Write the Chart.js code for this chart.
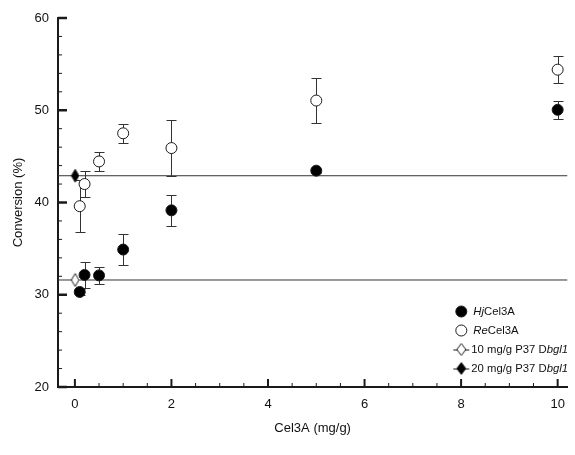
<!DOCTYPE html>
<html>
<head>
<meta charset="utf-8">
<script src="https://cdn.jsdelivr.net/npm/chart.js@4.4.0/dist/chart.umd.min.js"></script>
<style>
  html, body { margin: 0; padding: 0; background: #fff; }
</style>
</head>
<body>
<canvas id="conversionChart" width="575" height="455"></canvas>
<script>
// Cel3A loading (mg/g) vs conversion (%)
const hjDose = [0.1, 0.2, 0.5, 1, 2, 5, 10];
const hjConversion = [30.3, 32.15, 32.1, 34.9, 39.15, 43.45, 50.05];
const hjError = [0.3, 1.45, 0.9, 1.7, 1.65, 0.2, 0.95];

const reDose = [0.1, 0.2, 0.5, 1, 2, 5, 10];
const reConversion = [39.6, 42.0, 44.45, 47.5, 45.9, 51.05, 54.4];
const reError = [2.8, 1.4, 1.05, 1.0, 3.0, 2.4, 1.5];

// P37 Dbgl1 controls (no Cel3A added), drawn as reference levels
const p37Dose = 0;
const p37Low = 31.6;   // 10 mg/g
const p37High = 42.9;  // 20 mg/g

const xTickLabels = [0, 2, 4, 6, 8, 10];
const yTickLabels = [20, 30, 40, 50, 60];
const legendLabels = [
    [['Hj', true], ['Cel3A', false]],
    [['Re', true], ['Cel3A', false]],
    [['10 mg/g P37 D', false], ['bgl1', true]],
    [['20 mg/g P37 D', false], ['bgl1', true]]
];

const xMin = -0.35, xMax = 10.2;
const yMin = 20, yMax = 60;
const FONT = '"Liberation Sans", Arial, sans-serif';
const INK = '#1a1a1a';

function makeDiamond(fill, w, h) {
    const c = document.createElement('canvas');
    c.width = w + 2; c.height = h + 2;
    const g = c.getContext('2d');
    g.beginPath();
    g.moveTo(1 + w / 2, 1);
    g.lineTo(1 + w, 1 + h / 2);
    g.lineTo(1 + w / 2, 1 + h);
    g.lineTo(1, 1 + h / 2);
    g.closePath();
    g.fillStyle = fill;
    g.fill();
    g.strokeStyle = INK;
    g.lineWidth = 1;
    g.stroke();
    return c;
}
const openDiamond = makeDiamond('#fff', 7.5, 13);
const solidDiamond = makeDiamond('#000', 7.5, 13);
const openDiamondKey = makeDiamond('#fff', 9, 12);
const solidDiamondKey = makeDiamond('#000', 9, 12);

function levelData(level) {
    return [{ x: xMin, y: level }, { x: p37Dose, y: level }, { x: xMax, y: level }];
}

const decor = {
    id: 'decor',
    beforeDatasetsDraw(chart) {
        const { ctx, scales: { x, y } } = chart;
        ctx.save();
        ctx.strokeStyle = '#333';
        ctx.lineWidth = 1;
        [[hjDose, hjConversion, hjError], [reDose, reConversion, reError]].forEach(([xs, ys, es]) => {
            xs.forEach((d, i) => {
                const px = Math.round(x.getPixelForValue(d)) + 0.5;
                const top = Math.round(y.getPixelForValue(ys[i] + es[i])) + 0.5;
                const bot = Math.round(y.getPixelForValue(ys[i] - es[i])) + 0.5;
                ctx.beginPath();
                ctx.moveTo(px, top); ctx.lineTo(px, bot);
                ctx.moveTo(px - 5, top); ctx.lineTo(px + 5, top);
                ctx.moveTo(px - 5, bot); ctx.lineTo(px + 5, bot);
                ctx.stroke();
            });
        });
        ctx.restore();
    },
    afterDraw(chart) {
        const { ctx, chartArea, scales: { x, y } } = chart;
        ctx.save();
        ctx.strokeStyle = INK;
        // inward tick marks, minor every 0.5 on x and every 2 on y
        for (let v = 0; v <= 10; v += 0.5) {
            const major = xTickLabels.includes(v);
            const px = x.getPixelForValue(v);
            ctx.lineWidth = major ? 2 : 1;
            ctx.beginPath();
            ctx.moveTo(px, chartArea.bottom);
            ctx.lineTo(px, chartArea.bottom - (major ? 8 : 4));
            ctx.stroke();
        }
        for (let v = yMin; v <= yMax; v += 2) {
            const major = yTickLabels.includes(v);
            const py = y.getPixelForValue(v);
            ctx.lineWidth = major ? 2.5 : 1;
            ctx.beginPath();
            ctx.moveTo(chartArea.left, py);
            ctx.lineTo(chartArea.left + (major ? 9 : 4), py);
            ctx.stroke();
        }

        // legend
        const mx = chartArea.right - 106;
        legendLabels.forEach((parts, i) => {
            const my = chartArea.bottom - 75.5 + i * 19;
            ctx.lineWidth = 1;
            ctx.strokeStyle = INK;
            let tx = mx + 12;
            if (i < 2) {
                ctx.beginPath();
                ctx.arc(mx, my, 5.5, 0, Math.PI * 2);
                ctx.fillStyle = i === 0 ? '#000' : '#fff';
                ctx.fill();
                ctx.stroke();
            } else {
                ctx.beginPath();
                ctx.moveTo(mx - 8, my + 0.5); ctx.lineTo(mx + 8, my + 0.5);
                ctx.stroke();
                const img = i === 2 ? openDiamondKey : solidDiamondKey;
                ctx.drawImage(img, mx - img.width / 2, my - img.height / 2);
                tx = mx + 10;
            }
            ctx.fillStyle = '#111';
            ctx.textBaseline = 'middle';
            parts.forEach(([text, italic]) => {
                ctx.font = (italic ? 'italic ' : '') + '11.3px ' + FONT;
                ctx.fillText(text, tx, my);
                tx += ctx.measureText(text).width;
            });
        });
        ctx.restore();
    }
};

const ctx = document.getElementById('conversionChart').getContext('2d');
new Chart(ctx, {
    type: 'scatter',
    data: {
        datasets: [
            {
                label: 'HjCel3A',
                data: hjDose.map((d, i) => ({ x: d, y: hjConversion[i] })),
                pointStyle: 'circle',
                pointRadius: 5.5,
                backgroundColor: '#000',
                borderColor: INK,
                borderWidth: 1
            },
            {
                label: 'ReCel3A',
                data: reDose.map((d, i) => ({ x: d, y: reConversion[i] })),
                pointStyle: 'circle',
                pointRadius: 5.5,
                backgroundColor: '#fff',
                borderColor: INK,
                borderWidth: 1
            },
            {
                label: '10 mg/g P37 Dbgl1',
                data: levelData(p37Low),
                showLine: true,
                borderColor: '#333',
                borderWidth: 1,
                pointStyle: openDiamond,
                pointRadius: c => (c.raw && c.raw.x === p37Dose ? 6 : 0),
                clip: false
            },
            {
                label: '20 mg/g P37 Dbgl1',
                data: levelData(p37High),
                showLine: true,
                borderColor: '#333',
                borderWidth: 1,
                pointStyle: solidDiamond,
                pointRadius: c => (c.raw && c.raw.x === p37Dose ? 6 : 0),
                clip: false
            }
        ]
    },
    options: {
        responsive: false,
        animation: false,
        layout: { padding: { left: 0, right: 4, top: 18, bottom: 0 } },
        plugins: {
            legend: { display: false },
            tooltip: { enabled: false }
        },
        scales: {
            x: {
                type: 'linear',
                position: 'bottom',
                min: xMin,
                max: xMax,
                afterBuildTicks: s => { s.ticks = xTickLabels.map(v => ({ value: v })); },
                afterFit: s => { s.height = 68; },
                grid: { display: false, drawTicks: false },
                border: { display: true, color: INK, width: 2 },
                ticks: { color: '#111', font: { family: FONT, size: 13 }, padding: 10, maxRotation: 0 },
                title: { display: true, text: 'Cel3A (mg/g)', color: '#111', font: { family: FONT, size: 13 }, padding: { top: 4, bottom: 19 } }
            },
            y: {
                type: 'linear',
                min: yMin,
                max: yMax,
                afterBuildTicks: s => { s.ticks = yTickLabels.map(v => ({ value: v })); },
                afterFit: s => { s.width = 58; },
                grid: { display: false, drawTicks: false },
                border: { display: true, color: INK, width: 2 },
                ticks: { color: '#111', font: { family: FONT, size: 13 }, padding: 9 },
                title: { display: true, text: 'Conversion (%)', color: '#111', font: { family: FONT, size: 13 }, padding: { top: 11, bottom: 0 } }
            }
        }
    },
    plugins: [decor]
});
</script>
</body>
</html>
